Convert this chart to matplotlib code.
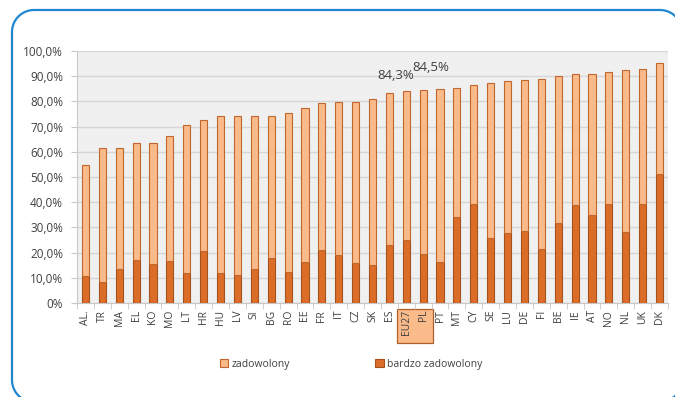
import numpy as np
import matplotlib.pyplot as plt
from matplotlib.patches import Rectangle
from matplotlib.ticker import FuncFormatter

plt.rcParams['font.family'] = ['Open Sans', 'DejaVu Sans']

# dane
kraje = ["AL.", "TR", "MA", "EL", "KO", "MO", "LT", "HR", "HU", "LV", "SI", "BG", "RO",
         "EE", "FR", "IT", "CZ", "SK", "ES", "EU27", "PL", "PT", "MT", "CY", "SE", "LU",
         "DE", "FI", "BE", "IE", "AT", "NO", "NL", "UK", "DK"]
ogolem = [54.8, 61.4, 61.4, 63.3, 63.6, 66.4, 70.6, 72.8, 74.2, 74.2, 74.2, 74.2, 75.4,
          77.4, 79.4, 79.8, 79.8, 81.0, 83.3, 84.3, 84.5, 84.9, 85.3, 86.4, 87.3, 88.1,
          88.4, 88.8, 90.0, 90.8, 90.8, 91.5, 92.3, 92.7, 95.1]
bardzo = [10.6, 8.2, 13.4, 16.9, 15.4, 16.5, 11.8, 20.8, 11.8, 11.2, 13.4, 18.0, 12.2,
          16.2, 21.2, 19.2, 15.7, 15.0, 23.0, 25.1, 19.6, 16.1, 34.0, 39.2, 25.9, 27.9,
          28.6, 21.6, 31.7, 38.8, 34.9, 39.2, 28.2, 39.2, 51.0]
zadowolony = [o - b for o, b in zip(ogolem, bardzo)]
etykiety = {"EU27": "84,3%", "PL": "84,5%"}

jasny = "#FBBA8A"
jasny_kraw = "#C0672E"
ciemny = "#DC6D28"
ciemny_kraw = "#A4521C"
tekst = "#404040"

W, H = 675, 397
fig = plt.figure(figsize=(W / 100, H / 100), dpi=100)

# ramka z zaokraglonymi rogami, liczona w pikselach od gory
def luk(cx, cy, r, a0, a1):
    t = np.radians(np.linspace(a0, a1, 20))
    return cx + r * np.cos(t), cy - r * np.sin(t)

r = 22
lewo, prawo, gora, dol = 12, 682, 10, 402
xs, ys = [], []
for cx, cy, a0, a1 in [(lewo + r, dol - r, 270, 180), (lewo + r, gora + r, 180, 90),
                       (prawo - r, gora + r, 90, 0), (prawo - r, dol - r, 0, -90)]:
    lx, ly = luk(cx, cy, r, a0, a1)
    xs.extend(lx)
    ys.extend(ly)
xs.append(xs[0])
ys.append(ys[0])
fig.add_artist(plt.Line2D(np.array(xs) / W, 1 - np.array(ys) / H, transform=fig.transFigure,
                          color="#1F86CF", linewidth=1.6))

ax = fig.add_axes([77 / W, 1 - 303 / H, (668 - 77) / W, (303 - 51) / H])
ax.set_facecolor("#F0F0F0")

x = np.arange(len(kraje))
ax.bar(x, bardzo, width=0.42, color=ciemny, edgecolor=ciemny_kraw, linewidth=0.8,
       label="bardzo zadowolony", zorder=3)
ax.bar(x, zadowolony, bottom=bardzo, width=0.42, color=jasny, edgecolor=jasny_kraw,
       linewidth=0.8, label="zadowolony", zorder=3)

ax.set_xlim(-0.5, len(kraje) - 0.5)
ax.set_ylim(0, 100)
ax.set_yticks(np.arange(0, 101, 10))
ax.yaxis.set_major_formatter(FuncFormatter(
    lambda v, p: "0%" if v == 0 else f"{v:.1f}%".replace(".", ",")))
ax.grid(axis="y", color="#D6D6D6", linewidth=1, zorder=0)

ax.set_xticks(x)
ax.set_xticklabels(kraje, rotation=90, fontsize=7.5, color=tekst)
ax.set_xticks(np.arange(-0.5, len(kraje), 1), minor=True)
ax.tick_params(axis="x", which="major", length=0, pad=5)
ax.tick_params(axis="x", which="minor", length=4, color="#C8C8C8")
ax.tick_params(axis="y", length=4, color="#C8C8C8", labelsize=8.5, labelcolor=tekst, pad=6)

for s in ["top", "right"]:
    ax.spines[s].set_visible(False)
for s in ["left", "bottom"]:
    ax.spines[s].set_color("#C8C8C8")

# podpisy wartosci
przes = {"EU27": (-0.65, 5.8), "PL": (0.45, 8.8)}
for k, t in etykiety.items():
    i = kraje.index(k)
    dx, dy = przes[k]
    ax.text(i + dx, ogolem[i] + dy, t, ha="center", va="center", fontsize=9.5, color=tekst)

# wyroznienie EU27 i PL
fig.patches.append(Rectangle((397 / W, 1 - 343 / H), 36 / W, 34 / H,
                             transform=fig.transFigure, facecolor=jasny,
                             edgecolor="#B0602A", linewidth=0.9, zorder=-1))

# legenda
uchwyty, nazwy = ax.get_legend_handles_labels()
fig.legend(uchwyty[::-1], nazwy[::-1], loc="center", bbox_to_anchor=(351 / W, 1 - 364 / H),
           ncol=2, frameon=False, fontsize=7.5, handlelength=0.8, handleheight=0.8,
           handletextpad=0.3, columnspacing=8.2, labelcolor=tekst)

fig.savefig("out.png", dpi=100)
